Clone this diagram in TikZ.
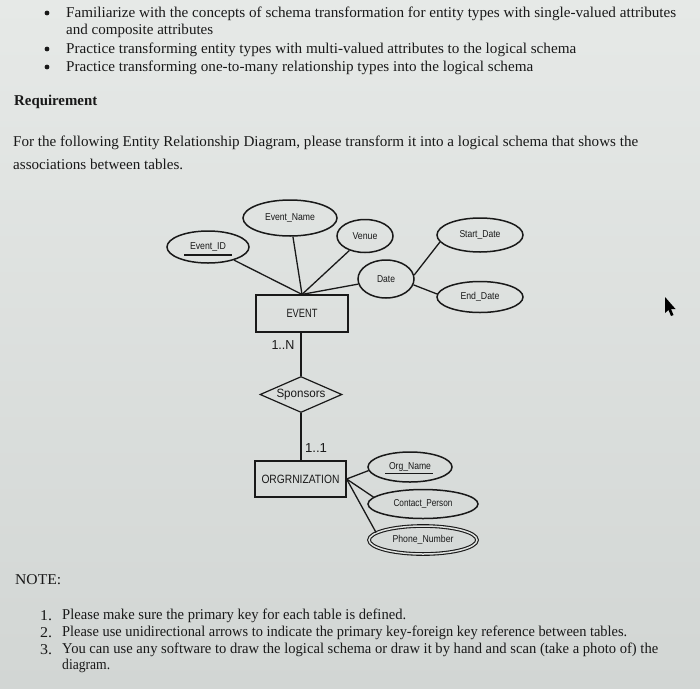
\documentclass[tikz,border=0pt]{standalone}
\usepackage{fontspec}
\setmainfont{Liberation Serif}
\setsansfont{Liberation Sans}
\usepackage{graphicx}
\usetikzlibrary{shapes.geometric}
\definecolor{ink}{RGB}{25,25,25}
\definecolor{paperA}{RGB}{230,233,231}
\definecolor{paperB}{RGB}{210,214,212}
\definecolor{paperC}{RGB}{222,225,223}
\newcommand{\fw}[3]{\resizebox{#1pt}{\height}{\fontsize{#2}{#2}\selectfont #3}}
\begin{document}
\begin{tikzpicture}[x=1pt,y=-1pt,
  txt/.style={anchor=west,inner sep=0pt,text=ink},
  attr/.style={draw=ink,ellipse,line width=1.5pt,inner sep=0pt,font=\sffamily,text=ink},
  ent/.style={draw=ink,rectangle,line width=1.2pt,inner sep=0pt,font=\sffamily,text=ink},
  rel/.style={draw=ink,diamond,line width=1.2pt,inner sep=0pt,font=\sffamily,text=ink},
  link/.style={draw=ink,line width=1.3pt},
  uline/.style={draw=ink,line width=1.2pt},
  lbl/.style={inner sep=0pt,text=ink,font=\sffamily}]

\fill[top color=paperA,bottom color=paperB] (0,0) rectangle (700,688);
\useasboundingbox (0,0) rectangle (700,688);

% ---- top text ----
\foreach \yy in {13,49,67} {\fill[ink] (47,\yy) circle (2.4);}
\node[txt] (t1) at (66,14) {\fw{610}{15}{Familiarize with the concepts of schema transformation for entity types with single-valued attributes}};
\node[txt] (t2) at (66,31) {\fw{147}{15}{and composite attributes}};
\node[txt] (t3) at (66,50) {\fw{510}{15}{Practice transforming entity types with multi-valued attributes to the logical schema}};
\node[txt] (t4) at (66,68) {\fw{467}{15}{Practice transforming one-to-many relationship types into the logical schema}};
\node[txt] (req) at (14,102) {\fw{83}{15}{\bfseries Requirement}};
\node[txt] (t5) at (13,143) {\fw{625}{15}{For the following Entity Relationship Diagram, please transform it into a logical schema that shows the}};
\node[txt] (t6) at (13,164) {\fw{170}{15}{associations between tables.}};

% ---- diagram ----
\node[attr,minimum width=82,minimum height=32] (eid) at (208,247) {\fw{36}{10}{Event\_ID}};
\node[attr,minimum width=94,minimum height=36] (en) at (290,218) {\fw{50}{10}{Event\_Name}};
\node[attr,minimum width=56,minimum height=33] (ven) at (365,236) {\fw{25}{10}{Venue}};
\node[attr,minimum width=86,minimum height=34] (sd) at (480,235) {\fw{41}{10}{Start\_Date}};
\node[attr,minimum width=56,minimum height=38] (date) at (386,279) {\fw{18}{10}{Date}};
\node[attr,minimum width=86,minimum height=31] (ed) at (480,297) {\fw{39}{10}{End\_Date}};

\node[ent,minimum width=92,minimum height=37] (event) at (302,313.5) {\fw{31}{12}{EVENT}};
\node[rel,aspect=2.28,minimum width=82,minimum height=36] (spon) at (301,394.5) {\fw{49}{12}{Sponsors}};
\node[ent,minimum width=91,minimum height=36] (org) at (300.5,479) {\fw{78}{12}{ORGRNIZATION}};

\node[attr,minimum width=84,minimum height=30] (on) at (410,467) {\fw{42}{10}{Org\_Name}};
\node[attr,minimum width=110,minimum height=29] (cp) at (423,504) {\fw{59}{10}{Contact\_Person}};
\node[attr,double=paperC,double distance=1.5pt,line width=1.1pt,minimum width=108,minimum height=28] (pn) at (423,540) {\fw{61}{10}{Phone\_Number}};

\draw[uline] ([shift={(-24,8)}]eid.center) -- ([shift={(24,8)}]eid.center);
\draw[uline] ([shift={(-25,6.5)}]on.center) -- ([shift={(23,6.5)}]on.center);

\node[lbl] (card1) at (283,345) {\fw{23}{13}{1..N}};
\node[lbl] (card2) at (316,448) {\fw{22}{13}{1..1}};

\draw[link] (eid) -- (event.north);
\draw[link] (en) -- (event.north);
\draw[link] (ven) -- (event.north);
\draw[link] (date) -- (event.north);
\draw[link] (date.8) -- (sd.190);
\draw[link] (date.-12) -- (ed.176);

\draw[link] (spon.north |- event.south) -- (spon.north);
\draw[link] (spon.south) -- (spon.south |- org.north);

\draw[link] (org.east) -- (on.185);
\draw[link] (org.east) -- (cp.172);
\draw[link] (org.east) -- (pn.171);

% ---- notes ----
\node[txt] (note) at (15,580) {\fw{46}{15}{NOTE:}};
\node[txt] (n1) at (40,616) {\fw{12}{15}{1.}};
\node[txt] (n2) at (40,633) {\fw{12}{15}{2.}};
\node[txt] (n3) at (40,650) {\fw{12}{15}{3.}};
\node[txt] (l1) at (62,616) {\fw{344}{15}{Please make sure the primary key for each table is defined.}};
\node[txt] (l2) at (62,633) {\fw{565}{15}{Please use unidirectional arrows to indicate the primary key-foreign key reference between tables.}};
\node[txt] (l3) at (62,650) {\fw{596}{15}{You can use any software to draw the logical schema or draw it by hand and scan (take a photo of) the}};
\node[txt] (l4) at (62,666) {\fw{48}{15}{diagram.}};

% ---- mouse cursor ----
\fill[black] (665,297) -- (665,313) -- (668.5,310) -- (671,316) -- (673.5,315) -- (671,309) -- (675.5,309) -- cycle;
\end{tikzpicture}
\end{document}
